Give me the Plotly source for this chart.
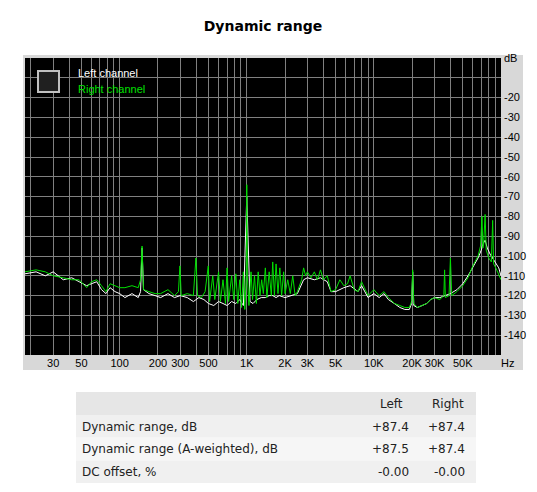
import plotly.graph_objects as go
import numpy as np

right_f = [18,22,26,30,36,42,48,55,60,66,72,78,84,92,100,110,125,140,146,150,154,170,190,210,240,270,290,298,305,340,380,398,410,440,470,498,510,540,560,600,620,650,680,700,720,760,790,820,850,880,910,940,965,990,1000,1010,1040,1080,1110,1150,1190,1230,1270,1310,1350,1400,1440,1500,1560,1600,1650,1700,1760,1820,1880,1950,2000,2100,2200,2300,2400,2500,2700,2800,2900,3000,3200,3400,3600,3800,4000,4300,4600,5000,5400,5800,6200,6500,7000,7500,8000,9000,10000,11000,12000,13000,14500,16000,17500,19000,19800,20200,20600,22000,24000,26000,28000,30000,33000,35500,36000,36500,39000,40000,41000,45000,50000,55000,60000,66000,69000,70800,72000,73000,75000,76500,80000,84000,86000,87500,91000,96000,100000]
right_v = [-108,-107,-108,-110,-111,-112,-112,-116,-113,-112,-115,-118,-114,-115,-116,-116,-115,-116,-112,-95,-117,-118,-119,-119,-117,-120,-118,-105,-120,-119,-120,-101,-120,-121,-118,-105,-123,-110,-122,-108,-123,-112,-124,-106,-123,-110,-122,-109,-124,-112,-126,-108,-127,-110,-64,-110,-125,-108,-122,-110,-124,-108,-120,-112,-119,-106,-121,-108,-120,-103,-120,-104,-119,-106,-120,-108,-119,-112,-119,-110,-120,-118,-112,-106,-110,-108,-111,-108,-112,-107,-112,-110,-118,-117,-112,-115,-114,-110,-117,-118,-113,-120,-117,-120,-118,-121,-124,-125,-126,-126,-123,-107,-124,-126,-125,-124,-122,-121,-122,-120,-107,-121,-120,-101,-120,-118,-115,-111,-105,-100,-95,-80,-96,-94,-79,-97,-101,-103,-82,-104,-106,-110,-112]

left_f = [18,22,26,30,36,42,48,55,60,66,72,78,84,92,100,110,125,140,146,150,154,170,190,210,240,270,300,340,380,420,460,500,550,600,650,700,760,820,880,940,1000,1060,1120,1200,1300,1400,1500,1600,1700,1800,2000,2200,2500,2800,3000,3400,3800,4300,4600,5000,5800,6500,7500,8000,9000,10000,11000,12000,13000,14500,16000,17500,19000,19800,20200,20600,22000,24000,26000,28000,30000,33000,36000,40000,45000,50000,55000,60000,66000,70000,72000,75000,78000,82000,86000,90000,96000,100000]
left_v = [-109,-108,-110,-108,-112,-111,-113,-115,-114,-113,-117,-119,-116,-118,-119,-121,-119,-121,-118,-96,-117,-119,-120,-121,-119,-121,-120,-121,-123,-121,-122,-124,-125,-123,-124,-125,-123,-124,-122,-125,-70,-123,-124,-122,-121,-121,-120,-120,-121,-120,-121,-120,-119,-112,-111,-112,-111,-113,-118,-118,-116,-115,-118,-115,-121,-119,-121,-119,-122,-124,-126,-127,-127,-124,-108,-125,-126,-125,-124,-122,-121,-121,-120,-119,-117,-114,-110,-106,-101,-97,-94,-92,-96,-99,-101,-103,-106,-110,-112]

yticks = [0,-10,-20,-30,-40,-50,-60,-70,-80,-90,-100,-110,-120,-130,-140,-150]
ylabels = ["dB","","-20","-30","-40","-50","-60","-70","-80","-90","-100","-110","-120","-130","-140",""]
xlabel_map = {30:"30",50:"50",100:"100",200:"200",300:"300",500:"500",1000:"1K",2000:"2K",3000:"3K",5000:"5K",10000:"10K",20000:"20K",30000:"30K",50000:"50K"}
xgrid = [m*10**e for e in range(1,5) for m in range(1,10) if 18 <= m*10**e <= 100000] + [100000]

row_labels = ["Dynamic range, dB","Dynamic range (A-weighted), dB","DC offset, %"]
left_col = ["+87.4","+87.5","-0.00"]
right_col = ["+87.4","+87.4","-0.00"]

W, H = 537, 492
L, R, T, B = 17, 493, 50, 347
def px(x): return (x - L) / (R - L)
def py(y): return (B - y) / (B - T)

fig = go.Figure()
fig.add_trace(go.Scatter(x=left_f, y=left_v, mode="lines", line=dict(color="white", width=1), name="Left channel"))
fig.add_trace(go.Scatter(x=right_f, y=right_v, mode="lines", line=dict(color="#00e000", width=1), name="Right channel"))

shapes = []
shapes.append(dict(type="rect", xref="paper", yref="paper", x0=px(15), x1=px(515), y0=py(362), y1=py(47), fillcolor="#d8d8d8", line=dict(width=0), layer="below"))
shapes.append(dict(type="rect", xref="paper", yref="paper", x0=0, x1=1, y0=0, y1=1, fillcolor="black", line=dict(width=0), layer="below"))
shapes.append(dict(type="rect", xref="paper", yref="paper", x0=px(30), x1=px(51), y0=py(84), y1=py(63), fillcolor="#202020", line=dict(color="#c0c0c0", width=2)))
# table
shapes.append(dict(type="rect", xref="paper", yref="paper", x0=px(68), x1=px(468), y0=py(407), y1=py(384), fillcolor="#e6e6e6", line=dict(width=0)))
row_cols = ["#f0f0f0", "#f6f6f6", "#f0f0f0"]
ann = []
for i, lab in enumerate(row_labels):
    y0 = 407 + i * 22.7
    shapes.append(dict(type="rect", xref="paper", yref="paper", x0=px(68), x1=px(468), y0=py(y0 + 22.7), y1=py(y0), fillcolor=row_cols[i], line=dict(width=0)))
    yc = py(y0 + 11.5)
    ann.append(dict(x=px(72), y=yc, text=lab, xanchor="left"))
    ann.append(dict(x=px(403), y=yc, text=left_col[i], xanchor="right"))
    ann.append(dict(x=px(459), y=yc, text=right_col[i], xanchor="right"))
ann.append(dict(x=px(397), y=py(396), text="Left", xanchor="right"))
ann.append(dict(x=px(458), y=py(396), text="Right", xanchor="right"))
annotations = [dict(a, xref="paper", yref="paper", yanchor="middle", showarrow=False,
                    font=dict(family="DejaVu Sans", size=12, color="#222")) for a in ann]
annotations.append(dict(xref="paper", yref="paper", x=px(68), y=py(65), text="Left channel", xanchor="left", yanchor="middle", showarrow=False, font=dict(family="Liberation Sans", size=11, color="white")))
annotations.append(dict(xref="paper", yref="paper", x=px(68), y=py(81), text="Right channel", xanchor="left", yanchor="middle", showarrow=False, font=dict(family="Liberation Sans", size=11, color="#00e000")))
annotations.append(dict(xref="paper", yref="paper", x=px(499), y=py(355), text="Hz", xanchor="center", yanchor="middle", showarrow=False, font=dict(family="Liberation Sans", size=11, color="black")))

fig.update_layout(
    width=W, height=H, margin=dict(l=L, r=W - R, t=T, b=H - B, autoexpand=False),
    paper_bgcolor="white", plot_bgcolor="black", showlegend=False,
    title=dict(text="<b>Dynamic range</b>", x=0.5, xref="paper", y=1 - 18 / H, yanchor="middle",
               font=dict(family="DejaVu Sans", size=14, color="black")),
    shapes=shapes, annotations=annotations,
)
fig.update_xaxes(type="log", range=[np.log10(18), 5.0], tickvals=xgrid, automargin=False,
                 ticktext=[xlabel_map.get(v, "") for v in xgrid], showgrid=True, gridcolor="#808080",
                 gridwidth=1, ticks="", zeroline=False, showline=False,
                 tickfont=dict(family="Liberation Sans", size=11, color="black"), tickangle=0)
fig.update_yaxes(range=[-150, 0], tickvals=yticks, ticktext=ylabels, side="right", showgrid=True, automargin=False,
                 gridcolor="#808080", ticks="", zeroline=False, showline=False, ticklabelstandoff=2,
                 tickfont=dict(family="Liberation Sans", size=11, color="black"))
fig.write_html("out.html")
